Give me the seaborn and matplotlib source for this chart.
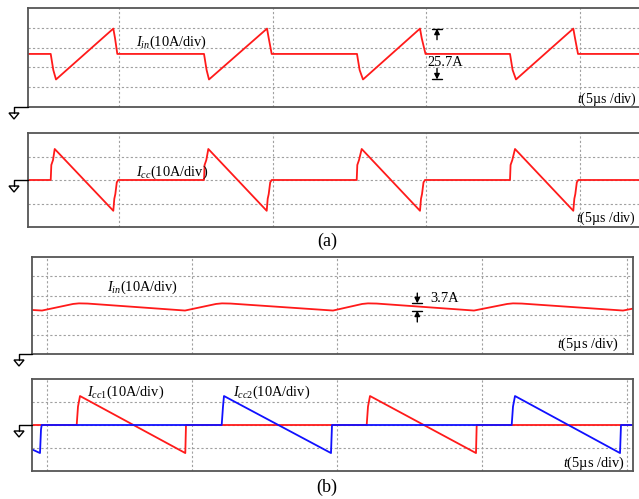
import matplotlib
matplotlib.use("Agg")
import matplotlib.pyplot as plt
import seaborn as sns
import pandas as pd
from matplotlib.lines import Line2D
from matplotlib.patches import Polygon

# ---------------- data (time in us, current in A) ----------------
# (a) top: input current I_in
t_a_in = [2.039, 2.778, 2.862, 2.950, 4.815, 4.870, 4.945,
          7.766, 7.850, 7.928, 9.816, 9.871, 9.968,
          12.744, 12.829, 12.939, 14.794, 14.849, 14.973,
          17.722, 17.807, 17.917, 19.782, 19.837, 19.935, 21.950]
i_a_in = [26.8, 26.8, 18.7, 13.9, 39.6, 34.8, 26.8,
          26.8, 18.7, 13.9, 39.6, 34.8, 26.8,
          26.8, 18.7, 13.9, 39.6, 34.8, 26.8,
          26.8, 18.7, 13.9, 39.6, 34.8, 26.8, 26.8]
# (a) bottom: I_cc
t_a_cc = [2.039, 2.778, 2.798, 2.853, 2.908, 4.815, 4.847, 4.880, 4.928, 4.977,
          7.766, 7.785, 7.841, 7.906, 9.806, 9.838, 9.871, 9.920, 9.968,
          12.734, 12.754, 12.809, 12.897, 14.794, 14.826, 14.859, 14.908, 14.956,
          17.722, 17.741, 17.797, 17.885, 19.782, 19.815, 19.847, 19.896, 19.945,
          21.950]
i_a_cc = [0.0, 0.0, 6.4, 8.5, 13.2, -13.1, -8.0, -6.0, -1.0, 0.0,
          0.0, 6.4, 8.5, 13.2, -13.1, -8.0, -6.0, -1.0, 0.0,
          0.0, 6.4, 8.5, 13.2, -13.1, -8.0, -6.0, -1.0, 0.0,
          0.0, 6.4, 8.5, 13.2, -13.1, -8.0, -6.0, -1.0, 0.0,
          0.0]
# (b) top: input current I_in (interleaved)
t_b_in = [4.483, 4.828, 5.900, 6.103, 6.400, 9.759, 10.830, 11.034, 11.330,
          14.862, 15.870, 16.069, 16.370, 19.724, 20.870, 21.069, 21.370, 24.862, 25.207]
i_b_in = [22.7, 22.4, 25.8, 26.1, 26.0, 22.4, 25.8, 26.1, 26.0,
          22.4, 25.8, 26.1, 26.0, 22.4, 25.8, 26.1, 26.0, 22.4, 23.4]
# (b) bottom: I_cc1 (red) and I_cc2 (blue)
t_b_cc1 = [4.483, 6.024, 6.069, 6.138, 9.769, 9.793, 16.024, 16.069, 16.138, 19.793, 19.817, 25.207]
i_b_cc1 = [0.0, 0.0, 8.0, 12.6, -12.2, 0.0, 0.0, 8.0, 12.6, -12.2, 0.0, 0.0]
t_b_cc2 = [4.483, 4.759, 4.793, 4.817, 11.024, 11.069, 11.103, 14.793, 14.828,
           21.024, 21.069, 21.138, 24.759, 24.793, 25.207]
i_b_cc2 = [-10.6, -12.2, -2.0, 0.0, 0.0, 8.0, 12.6, -12.2, 0.0,
           0.0, 8.0, 12.6, -12.2, 0.0, 0.0]

labels = {
    "a_in": r"$I_{in}$(10A/div)",
    "a_cc": r"$I_{cc}$(10A/div)",
    "b_in": r"$I_{in}$(10A/div)",
    "b_cc1": r"$I_{cc\mathrm{1}}$(10A/div)",
    "b_cc2": r"$I_{cc\mathrm{2}}$(10A/div)",
    "time": r"$t$(5µs /div)",
}

# ---------------- style ----------------
sns.set_theme(style="white")
plt.rcParams["font.family"] = ["Liberation Serif", "DejaVu Serif"]
plt.rcParams["mathtext.fontset"] = "custom"
plt.rcParams["mathtext.rm"] = "Liberation Serif"
plt.rcParams["mathtext.it"] = "Liberation Serif:italic"

W, H = 639, 499
fig = plt.figure(figsize=(W / 100, H / 100), dpi=100)
fig.patch.set_facecolor("white")

RED = "#ff1a1a"
BLUE = "#1010ff"
GRID = "#a0a0a0"
SPINE = "#555555"
FS = 10.4


def make_ax(left, top, right, bottom, xlim, ylim, xgrid, ygrid):
    ax = fig.add_axes([left / W, 1 - bottom / H, (right - left) / W, (bottom - top) / H])
    ax.set_xlim(*xlim)
    ax.set_ylim(*ylim)
    ax.set_xticks(xgrid)
    ax.set_yticks(ygrid)
    ax.grid(True, linestyle=(0, (2, 2)), color=GRID, linewidth=0.8)
    ax.tick_params(length=0, labelbottom=False, labelleft=False)
    for s in ax.spines.values():
        s.set_color(SPINE)
        s.set_linewidth(1.3)
    ax.set_xlabel("")
    ax.set_ylabel("")
    return ax


def line(ax, t, i, color):
    df = pd.DataFrame({"t": t, "i": i})
    sns.lineplot(data=df, x="t", y="i", ax=ax, color=color, linewidth=1.3,
                 sort=False, estimator=None)
    ax.set_xlabel("")
    ax.set_ylabel("")


def ptext(px, py, s, size=FS, ha="left"):
    fig.text(px / W, 1 - py / H, s, fontsize=size, ha=ha, va="center", color="black")


def ground(x, y, x_end, stem=6, tri_h=6, tri_w=5):
    tf = fig.transFigure
    fig.lines.append(Line2D([x_end / W, x / W, x / W],
                            [1 - y / H, 1 - y / H, 1 - (y + stem) / H],
                            transform=tf, color="black", linewidth=1.0))
    fig.patches.append(Polygon([[(x - tri_w) / W, 1 - (y + stem) / H],
                                [(x + tri_w) / W, 1 - (y + stem) / H],
                                [x / W, 1 - (y + stem + tri_h) / H]],
                               closed=True, fill=False, edgecolor="black",
                               linewidth=1.0, transform=tf))


def marker(ax, x, y0, y1, tail0, tail1, halfw):
    ax.plot([x - halfw, x + halfw], [y0, y0], color="black", linewidth=1.0)
    ax.plot([x - halfw, x + halfw], [y1, y1], color="black", linewidth=1.0)
    for tip, tail in ((y0, tail0), (y1, tail1)):
        ax.annotate("", xy=(x, tip), xytext=(x, tail),
                    arrowprops=dict(arrowstyle="-|>", color="black", lw=1.0,
                                    mutation_scale=8, shrinkA=0, shrinkB=0))


# ---------------- panel (a) ----------------
ax1 = make_ax(28, 8, 640, 107, (2.039, 21.952), (0, 50), [5, 10, 15, 20], [10, 20, 30, 40])
line(ax1, t_a_in, i_a_in, RED)
marker(ax1, 15.347, 39.6, 13.9, 34.0, 19.5, 0.16)
ptext(136, 42, labels["a_in"])
ptext(427, 62, "25.7A")
ptext(577, 99, labels["time"], size=10)
ground(14, 107, 28)

ax2 = make_ax(28, 133, 640, 227, (2.039, 21.952), (-20, 20), [5, 10, 15, 20], [-10, 0, 10])
line(ax2, t_a_cc, i_a_cc, RED)
ptext(136, 172, labels["a_cc"])
ptext(576, 218, labels["time"], size=10)
ground(14, 180, 28)

ptext(327, 241, "(a)", size=13, ha="center")

# ---------------- panel (b) ----------------
ax3 = make_ax(32, 257, 633, 354, (4.483, 25.207), (0, 50), [5, 10, 15, 20, 25], [10, 20, 30, 40])
line(ax3, t_b_in, i_b_in, RED)
ax3.plot([17.586, 17.931], [26.1, 26.1], color="black", linewidth=1.0)
ax3.plot([17.586, 17.931], [22.4, 22.4], color="black", linewidth=1.0)
ax3.annotate("", xy=(17.769, 26.1), xytext=(17.769, 31.4),
             arrowprops=dict(arrowstyle="-|>", color="black", lw=1.0,
                             mutation_scale=8, shrinkA=0, shrinkB=0))
ax3.annotate("", xy=(17.769, 22.4), xytext=(17.769, 16.5),
             arrowprops=dict(arrowstyle="-|>", color="black", lw=1.0,
                             mutation_scale=8, shrinkA=0, shrinkB=0))
ptext(107, 287, labels["b_in"])
ptext(430, 298, "3.7A")
ptext(557, 344, labels["time"])
ground(19, 354, 32)

ax4 = make_ax(32, 379, 633, 471, (4.483, 25.207), (-20, 20), [5, 10, 15, 20, 25], [-10, 0, 10])
line(ax4, t_b_cc1, i_b_cc1, RED)
line(ax4, t_b_cc2, i_b_cc2, BLUE)
ptext(87, 392, labels["b_cc1"])
ptext(233, 392, labels["b_cc2"])
ptext(563, 463, labels["time"])
ground(19, 425, 32)

ptext(327, 487, "(b)", size=13, ha="center")

fig.savefig("out.png", dpi=100, facecolor="white")
